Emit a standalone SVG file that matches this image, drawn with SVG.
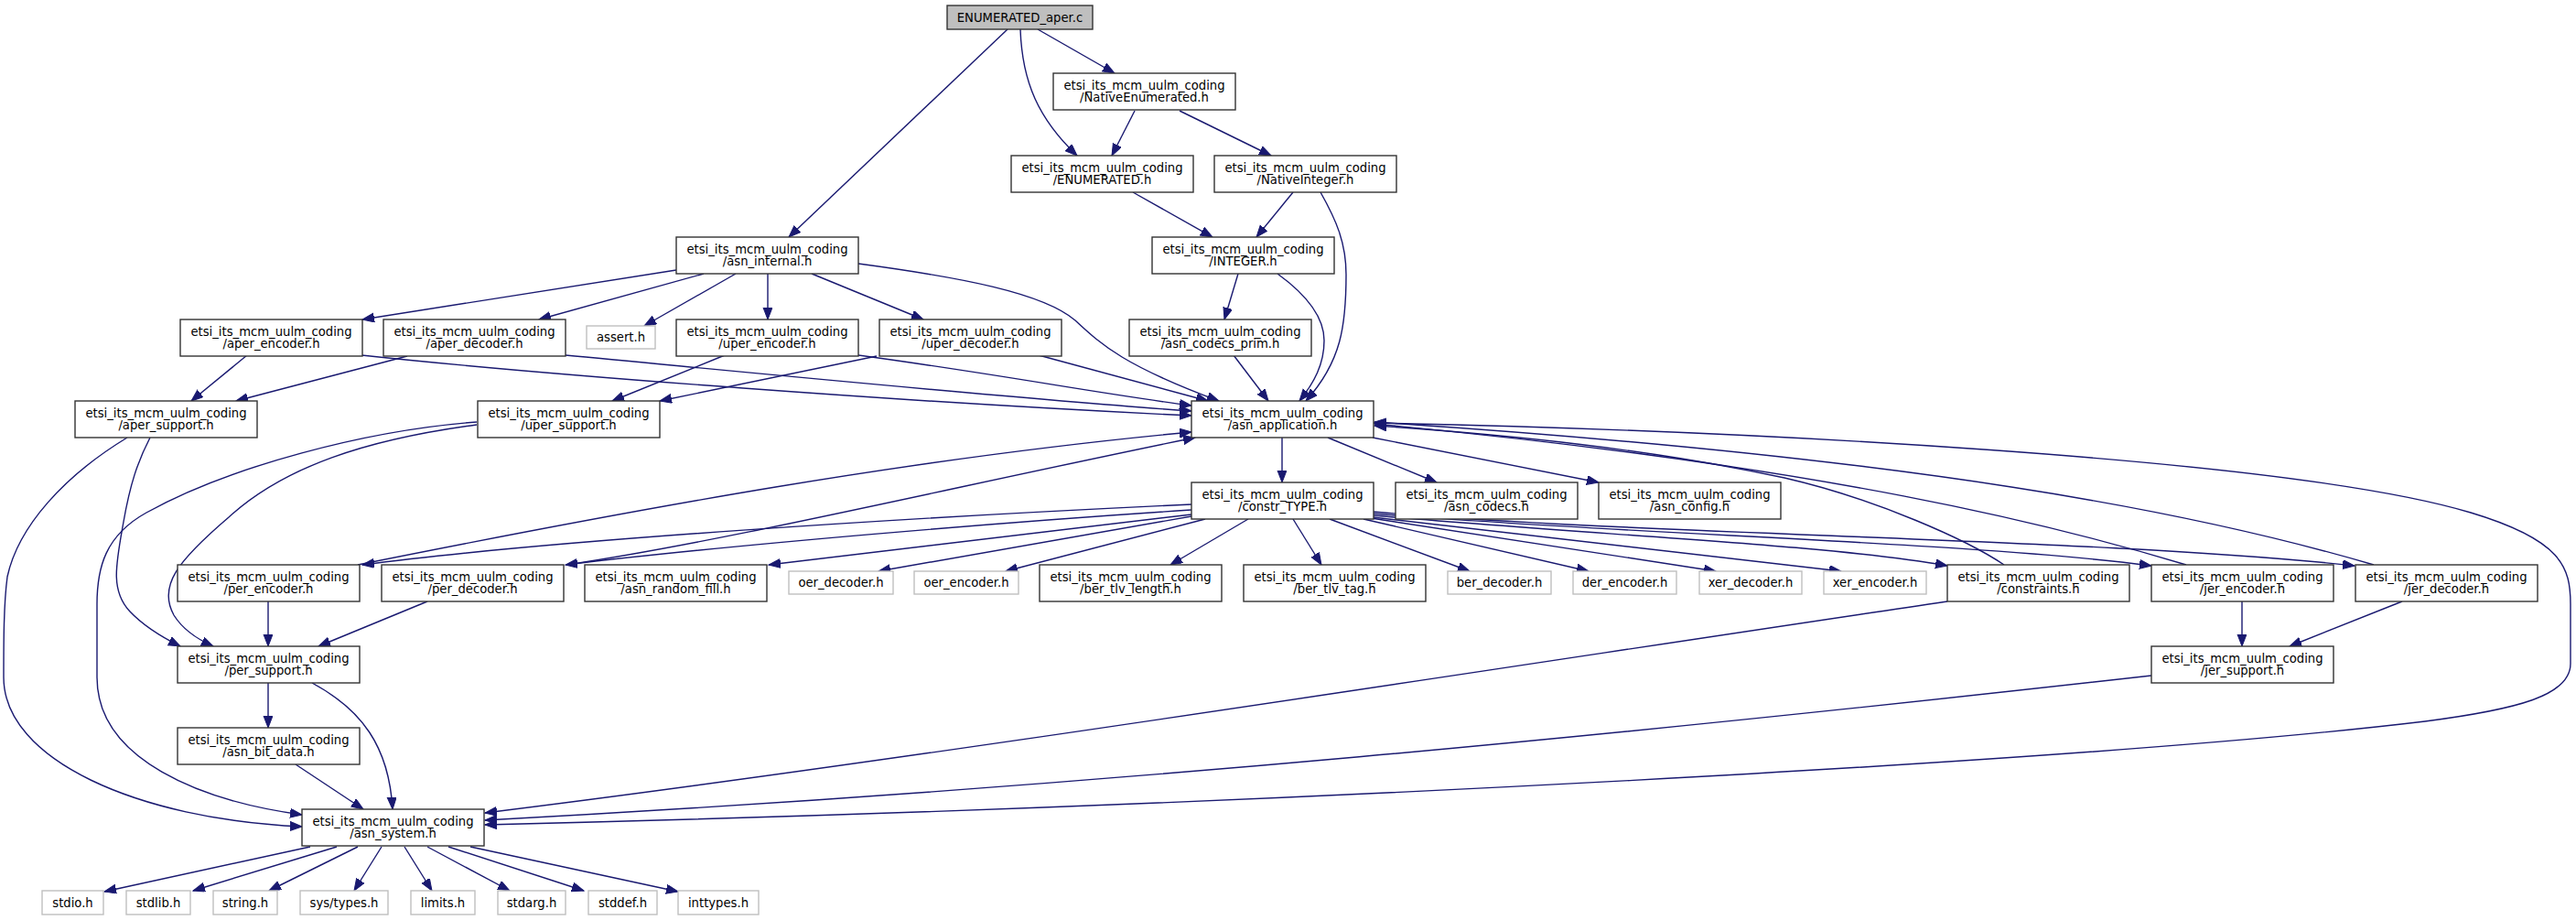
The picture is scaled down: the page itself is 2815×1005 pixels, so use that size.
<svg xmlns="http://www.w3.org/2000/svg" width="2815" height="1005" viewBox="0 0 2815 1005">
<style>
.n rect{fill:#ffffff;stroke:#333333;stroke-width:1.4}
.n.root rect{fill:#bfbfbf}
.n.ext rect{fill:#ffffff;stroke:#bfbfbf}
.n text{font-family:"DejaVu Sans","Liberation Sans",sans-serif;font-size:13.2px;fill:#000000;text-anchor:middle}
#edges path{fill:none;stroke:#191970;stroke-width:1.4;marker-end:url(#ah)}
</style>
<defs>
<marker id="ah" markerUnits="userSpaceOnUse" markerWidth="15" markerHeight="11" refX="13" refY="5" orient="auto">
<path d="M0,0 L13,5 L0,10 z" fill="#191970" stroke="#191970" stroke-width="1"/>
</marker>
</defs>
<rect x="0" y="0" width="2815" height="1005" fill="#ffffff"/>
<g id="edges">
<path d="M1101,32 L862,259"/>
<path d="M1115,32 C1117,90 1135,130 1177,170"/>
<path d="M1134,32 L1218,80"/>
<path d="M1240,121 L1215,170"/>
<path d="M1289,121 L1389,170"/>
<path d="M1238,210 L1325,259"/>
<path d="M1413,210 L1373,259"/>
<path d="M1443,210 C1460,240 1471,265 1471,300 C1471,355 1466,395 1427,438"/>
<path d="M1353,299 L1338,349"/>
<path d="M1396,299 C1425,320 1447,345 1447,372 C1447,398 1436,418 1420,438"/>
<path d="M1348,388 L1386,438"/>
<path d="M739,295 L396,349"/>
<path d="M769,299 L589,349"/>
<path d="M804,299 L704,356"/>
<path d="M839,299 L839,349"/>
<path d="M887,299 L1009,349"/>
<path d="M938,288 C1050,303 1140,320 1175,350 C1205,378 1230,400 1332,438"/>
<path d="M270,388 L209,438"/>
<path d="M395,388 C600,410 1000,440 1302,454"/>
<path d="M445,389 L258,438"/>
<path d="M618,388 C800,405 1100,435 1302,449"/>
<path d="M792,388 L669,438"/>
<path d="M938,388 C1100,410 1200,430 1302,443"/>
<path d="M958,389 L721,438"/>
<path d="M1135,388 L1320,438"/>
<path d="M164,478 C150,505 142,530 135,570 C127,615 120,645 142,668 C157,684 175,695 197,706"/>
<path d="M139,478 C70,520 20,575 8,630 C4,660 4,700 4,740 C4,830 150,895 330,903"/>
<path d="M521,464 C400,480 310,510 250,565 C195,612 172,640 190,672 C200,688 215,698 233,706"/>
<path d="M521,461 C400,470 250,510 160,560 C115,585 106,620 106,660 L106,740 C106,830 220,875 330,890"/>
<path d="M293,657 L293,706"/>
<path d="M467,657 L348,706"/>
<path d="M293,746 L293,795"/>
<path d="M341,746 C395,775 425,815 429,884"/>
<path d="M323,835 L397,884"/>
<path d="M339,925 L114,974"/>
<path d="M368,925 L211,973"/>
<path d="M391,925 L294,973"/>
<path d="M417,925 L387,973"/>
<path d="M442,925 L472,973"/>
<path d="M467,925 L557,973"/>
<path d="M490,925 L638,973"/>
<path d="M514,925 L741,974"/>
<path d="M1401,478 L1401,527"/>
<path d="M1451,478 L1570,527"/>
<path d="M1500,478 L1747,527"/>
<path d="M1500,462 C1900,470 2500,500 2700,560 C2800,590 2809,620 2809,660 L2809,725 C2809,760 2750,775 2650,788 C2300,830 1400,880 530,901"/>
<path d="M1302,551 C1000,565 600,590 396,617"/>
<path d="M1302,557 C1100,570 800,595 618,617"/>
<path d="M1302,562 L840,617"/>
<path d="M1302,564 L960,624"/>
<path d="M1317,567 L1099,624"/>
<path d="M1364,567 L1279,617"/>
<path d="M1413,567 L1444,617"/>
<path d="M1453,567 L1606,624"/>
<path d="M1490,567 L1736,624"/>
<path d="M1498,566 L1875,624"/>
<path d="M1500,565 L2012,624"/>
<path d="M1500,563 C1750,585 2000,595 2128,618"/>
<path d="M1500,561 C1800,585 2150,592 2351,618"/>
<path d="M1500,559 C1800,585 2300,588 2573,618"/>
<path d="M391,617 C700,555 1000,500 1302,472"/>
<path d="M619,617 C800,590 1050,530 1306,478"/>
<path d="M2190,617 C2150,590 2050,545 1950,522 C1800,490 1650,475 1502,465"/>
<path d="M2389,617 C2250,575 2000,510 1502,463"/>
<path d="M2594,617 C2400,560 2100,500 1502,461"/>
<path d="M2450,657 L2450,706"/>
<path d="M2625,657 L2502,706"/>
<path d="M2351,738 C1800,800 1200,860 530,896"/>
<path d="M2128,657 C1700,720 1000,830 530,888"/>
</g>
<g id="n_root" class="n root"><rect x="1035" y="6" width="159" height="26"/><text x="1114.5" y="24">ENUMERATED_aper.c</text></g>
<g id="n_native_enum" class="n"><rect x="1151" y="80" width="199" height="40"/><text><tspan x="1250.5" y="97.5">etsi_its_mcm_uulm_coding</tspan><tspan x="1250.5" y="111">/NativeEnumerated.h</tspan></text></g>
<g id="n_enumerated" class="n"><rect x="1105" y="170" width="199" height="40"/><text><tspan x="1204.5" y="187.5">etsi_its_mcm_uulm_coding</tspan><tspan x="1204.5" y="201">/ENUMERATED.h</tspan></text></g>
<g id="n_native_int" class="n"><rect x="1327" y="170" width="199" height="40"/><text><tspan x="1426.5" y="187.5">etsi_its_mcm_uulm_coding</tspan><tspan x="1426.5" y="201">/NativeInteger.h</tspan></text></g>
<g id="n_asn_internal" class="n"><rect x="739" y="259" width="199" height="40"/><text><tspan x="838.5" y="276.5">etsi_its_mcm_uulm_coding</tspan><tspan x="838.5" y="290">/asn_internal.h</tspan></text></g>
<g id="n_integer" class="n"><rect x="1259" y="259" width="199" height="40"/><text><tspan x="1358.5" y="276.5">etsi_its_mcm_uulm_coding</tspan><tspan x="1358.5" y="290">/INTEGER.h</tspan></text></g>
<g id="n_aper_encoder" class="n"><rect x="197" y="349" width="199" height="40"/><text><tspan x="296.5" y="366.5">etsi_its_mcm_uulm_coding</tspan><tspan x="296.5" y="380">/aper_encoder.h</tspan></text></g>
<g id="n_aper_decoder" class="n"><rect x="419" y="349" width="199" height="40"/><text><tspan x="518.5" y="366.5">etsi_its_mcm_uulm_coding</tspan><tspan x="518.5" y="380">/aper_decoder.h</tspan></text></g>
<g id="n_assert" class="n ext"><rect x="641" y="356" width="75" height="25"/><text x="678.5" y="373">assert.h</text></g>
<g id="n_uper_encoder" class="n"><rect x="739" y="349" width="199" height="40"/><text><tspan x="838.5" y="366.5">etsi_its_mcm_uulm_coding</tspan><tspan x="838.5" y="380">/uper_encoder.h</tspan></text></g>
<g id="n_uper_decoder" class="n"><rect x="961" y="349" width="199" height="40"/><text><tspan x="1060.5" y="366.5">etsi_its_mcm_uulm_coding</tspan><tspan x="1060.5" y="380">/uper_decoder.h</tspan></text></g>
<g id="n_asn_codecs_prim" class="n"><rect x="1234" y="349" width="199" height="40"/><text><tspan x="1333.5" y="366.5">etsi_its_mcm_uulm_coding</tspan><tspan x="1333.5" y="380">/asn_codecs_prim.h</tspan></text></g>
<g id="n_aper_support" class="n"><rect x="82" y="438" width="199" height="40"/><text><tspan x="181.5" y="455.5">etsi_its_mcm_uulm_coding</tspan><tspan x="181.5" y="469">/aper_support.h</tspan></text></g>
<g id="n_uper_support" class="n"><rect x="522" y="438" width="199" height="40"/><text><tspan x="621.5" y="455.5">etsi_its_mcm_uulm_coding</tspan><tspan x="621.5" y="469">/uper_support.h</tspan></text></g>
<g id="n_asn_application" class="n"><rect x="1302" y="438" width="199" height="40"/><text><tspan x="1401.5" y="455.5">etsi_its_mcm_uulm_coding</tspan><tspan x="1401.5" y="469">/asn_application.h</tspan></text></g>
<g id="n_constr_type" class="n"><rect x="1302" y="527" width="199" height="40"/><text><tspan x="1401.5" y="544.5">etsi_its_mcm_uulm_coding</tspan><tspan x="1401.5" y="558">/constr_TYPE.h</tspan></text></g>
<g id="n_asn_codecs" class="n"><rect x="1525" y="527" width="199" height="40"/><text><tspan x="1624.5" y="544.5">etsi_its_mcm_uulm_coding</tspan><tspan x="1624.5" y="558">/asn_codecs.h</tspan></text></g>
<g id="n_asn_config" class="n"><rect x="1747" y="527" width="199" height="40"/><text><tspan x="1846.5" y="544.5">etsi_its_mcm_uulm_coding</tspan><tspan x="1846.5" y="558">/asn_config.h</tspan></text></g>
<g id="n_per_encoder" class="n"><rect x="194" y="617" width="199" height="40"/><text><tspan x="293.5" y="634.5">etsi_its_mcm_uulm_coding</tspan><tspan x="293.5" y="648">/per_encoder.h</tspan></text></g>
<g id="n_per_decoder" class="n"><rect x="417" y="617" width="199" height="40"/><text><tspan x="516.5" y="634.5">etsi_its_mcm_uulm_coding</tspan><tspan x="516.5" y="648">/per_decoder.h</tspan></text></g>
<g id="n_asn_random_fill" class="n"><rect x="639" y="617" width="199" height="40"/><text><tspan x="738.5" y="634.5">etsi_its_mcm_uulm_coding</tspan><tspan x="738.5" y="648">/asn_random_fill.h</tspan></text></g>
<g id="n_oer_decoder" class="n ext"><rect x="862" y="624" width="114" height="25"/><text x="919" y="641">oer_decoder.h</text></g>
<g id="n_oer_encoder" class="n ext"><rect x="999" y="624" width="114" height="25"/><text x="1056" y="641">oer_encoder.h</text></g>
<g id="n_ber_tlv_length" class="n"><rect x="1136" y="617" width="199" height="40"/><text><tspan x="1235.5" y="634.5">etsi_its_mcm_uulm_coding</tspan><tspan x="1235.5" y="648">/ber_tlv_length.h</tspan></text></g>
<g id="n_ber_tlv_tag" class="n"><rect x="1359" y="617" width="199" height="40"/><text><tspan x="1458.5" y="634.5">etsi_its_mcm_uulm_coding</tspan><tspan x="1458.5" y="648">/ber_tlv_tag.h</tspan></text></g>
<g id="n_ber_decoder" class="n ext"><rect x="1582" y="624" width="113" height="25"/><text x="1638.5" y="641">ber_decoder.h</text></g>
<g id="n_der_encoder" class="n ext"><rect x="1719" y="624" width="113" height="25"/><text x="1775.5" y="641">der_encoder.h</text></g>
<g id="n_xer_decoder" class="n ext"><rect x="1857" y="624" width="112" height="25"/><text x="1913" y="641">xer_decoder.h</text></g>
<g id="n_xer_encoder" class="n ext"><rect x="1993" y="624" width="112" height="25"/><text x="2049" y="641">xer_encoder.h</text></g>
<g id="n_constraints" class="n"><rect x="2128" y="617" width="199" height="40"/><text><tspan x="2227.5" y="634.5">etsi_its_mcm_uulm_coding</tspan><tspan x="2227.5" y="648">/constraints.h</tspan></text></g>
<g id="n_jer_encoder" class="n"><rect x="2351" y="617" width="199" height="40"/><text><tspan x="2450.5" y="634.5">etsi_its_mcm_uulm_coding</tspan><tspan x="2450.5" y="648">/jer_encoder.h</tspan></text></g>
<g id="n_jer_decoder" class="n"><rect x="2574" y="617" width="199" height="40"/><text><tspan x="2673.5" y="634.5">etsi_its_mcm_uulm_coding</tspan><tspan x="2673.5" y="648">/jer_decoder.h</tspan></text></g>
<g id="n_per_support" class="n"><rect x="194" y="706" width="199" height="40"/><text><tspan x="293.5" y="723.5">etsi_its_mcm_uulm_coding</tspan><tspan x="293.5" y="737">/per_support.h</tspan></text></g>
<g id="n_jer_support" class="n"><rect x="2351" y="706" width="199" height="40"/><text><tspan x="2450.5" y="723.5">etsi_its_mcm_uulm_coding</tspan><tspan x="2450.5" y="737">/jer_support.h</tspan></text></g>
<g id="n_asn_bit_data" class="n"><rect x="194" y="795" width="199" height="40"/><text><tspan x="293.5" y="812.5">etsi_its_mcm_uulm_coding</tspan><tspan x="293.5" y="826">/asn_bit_data.h</tspan></text></g>
<g id="n_asn_system" class="n"><rect x="330" y="884" width="199" height="40"/><text><tspan x="429.5" y="901.5">etsi_its_mcm_uulm_coding</tspan><tspan x="429.5" y="915">/asn_system.h</tspan></text></g>
<g id="n_stdio" class="n ext"><rect x="46" y="973" width="67" height="26"/><text x="79.5" y="991">stdio.h</text></g>
<g id="n_stdlib" class="n ext"><rect x="138" y="973" width="70" height="26"/><text x="173" y="991">stdlib.h</text></g>
<g id="n_string" class="n ext"><rect x="233" y="973" width="70" height="26"/><text x="268" y="991">string.h</text></g>
<g id="n_sys_types" class="n ext"><rect x="328" y="973" width="96" height="26"/><text x="376" y="991">sys/types.h</text></g>
<g id="n_limits" class="n ext"><rect x="449" y="973" width="70" height="26"/><text x="484" y="991">limits.h</text></g>
<g id="n_stdarg" class="n ext"><rect x="544" y="973" width="74" height="26"/><text x="581" y="991">stdarg.h</text></g>
<g id="n_stddef" class="n ext"><rect x="643" y="973" width="75" height="26"/><text x="680.5" y="991">stddef.h</text></g>
<g id="n_inttypes" class="n ext"><rect x="741" y="973" width="88" height="26"/><text x="785" y="991">inttypes.h</text></g>
</svg>
